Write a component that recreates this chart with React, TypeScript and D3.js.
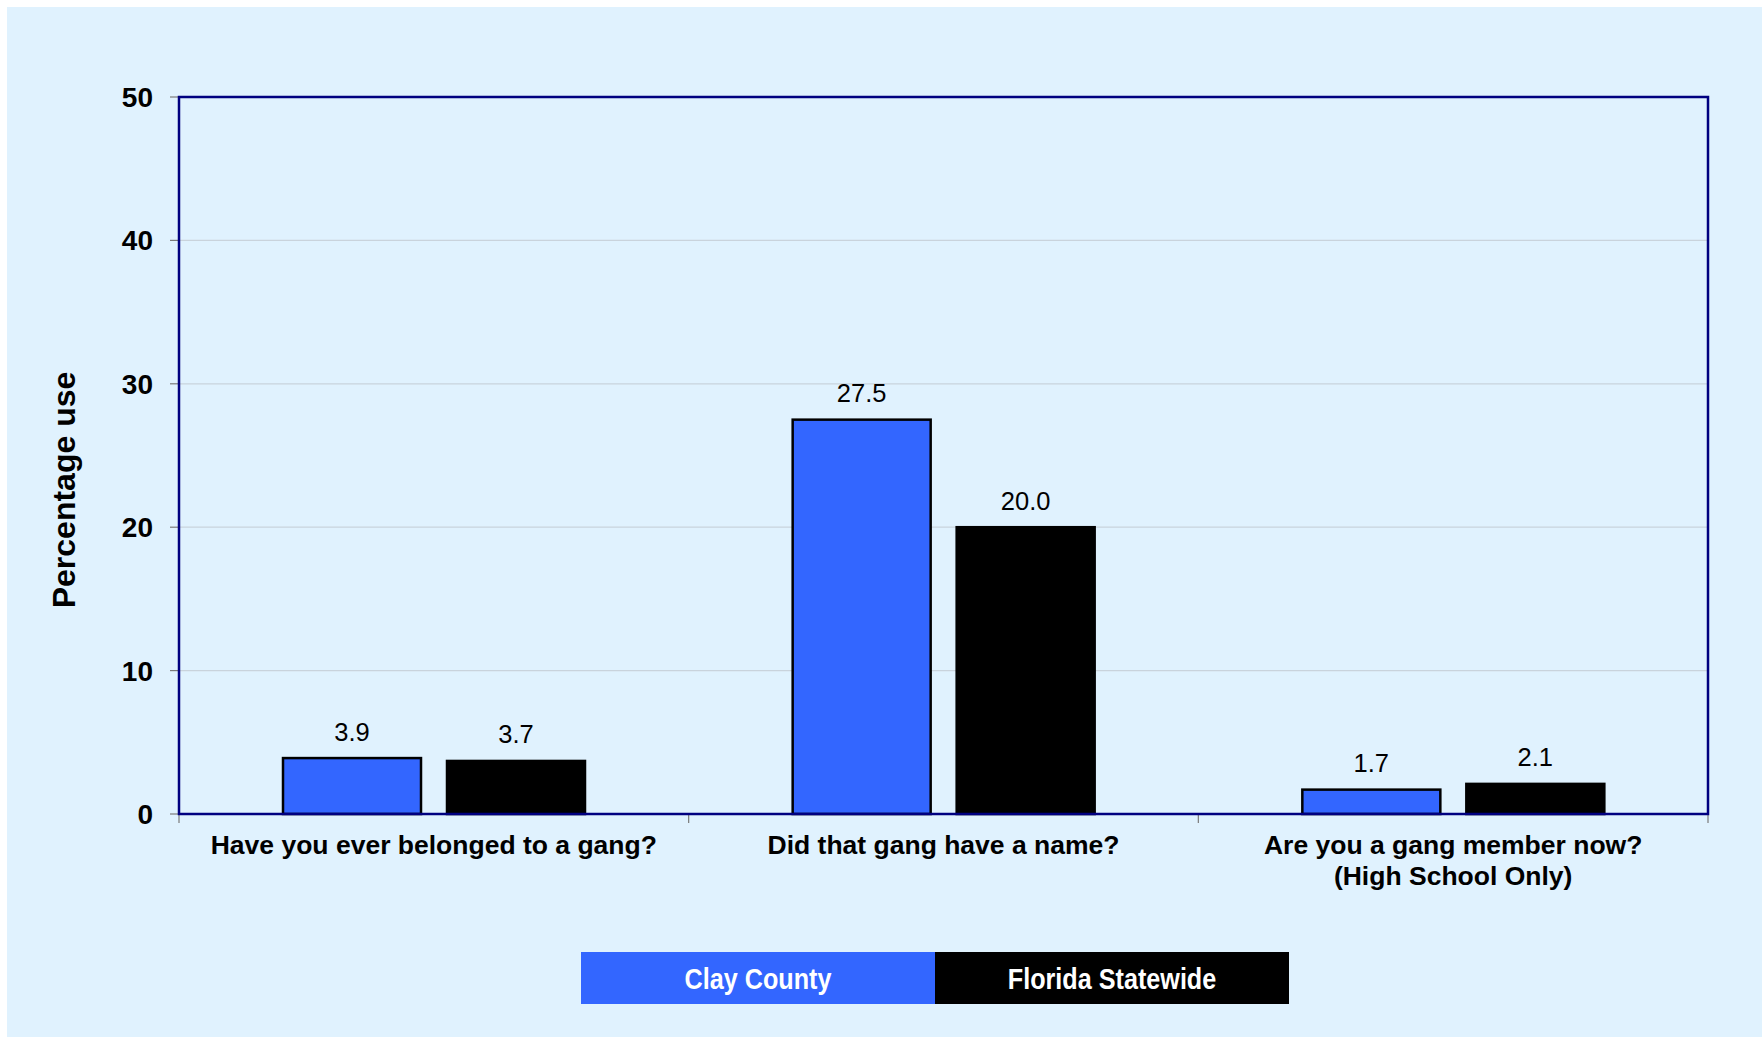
import React from "react";
import * as d3 from "d3";

const categories = [
  ["Have you ever belonged to a gang?"],
  ["Did that gang have a name?"],
  ["Are you a gang member now?", "(High School Only)"],
];
const seriesNames = ["Clay County", "Florida Statewide"];
const clayCounty = [3.9, 27.5, 1.7];
const floridaStatewide = [3.7, 20.0, 2.1];
const yTicks = [0, 10, 20, 30, 40, 50];
const seriesColors = ["#3366FF", "#000000"];

const W = 1762;
const H = 1037;
const plot = { left: 179, top: 97, right: 1708, bottom: 814 };

export default function App() {
  const x0 = d3
    .scaleBand<number>()
    .domain(categories.map((_, i) => i))
    .range([plot.left, plot.right])
    .paddingInner(0)
    .paddingOuter(0);
  const x1 = d3
    .scaleBand<number>()
    .domain([0, 1])
    .range([104, 104 + 302])
    .paddingInner(26 / 164)
    .paddingOuter(0);
  const y = d3.scaleLinear().domain([0, 50]).range([plot.bottom, plot.top]);
  const series = [clayCounty, floridaStatewide];

  const font = "Arial, 'Liberation Sans', sans-serif";

  return (
    <svg
      width={W}
      height={H}
      style={{ position: "absolute", left: 0, top: 0, display: "block" }}
    >
      <rect x={0} y={0} width={W} height={H} fill="#ffffff" />
      <rect x={7} y={7} width={W - 7} height={H - 7} fill="#E0F2FE" />

      {/* gridlines */}
      {yTicks
        .filter((t) => t !== 0 && t !== 50)
        .map((t) => (
          <line
            key={t}
            x1={plot.left}
            x2={plot.right}
            y1={y(t)}
            y2={y(t)}
            stroke="#C9D3DC"
            strokeWidth={1.2}
          />
        ))}

      {/* y ticks and labels */}
      {yTicks.map((t) => (
        <g key={t}>
          <line x1={plot.left - 9} x2={plot.left} y1={y(t)} y2={y(t)} stroke="#7a7a7a" strokeWidth={1.2} />
          <text
            x={153}
            y={y(t)}
            dy="0.36em"
            textAnchor="end"
            fontFamily={font}
            fontWeight="bold"
            fontSize={28}
            fill="#000"
          >
            {t}
          </text>
        </g>
      ))}

      {/* category ticks */}
      {[0, 1, 2, 3].map((i) => {
        const xx = plot.left + i * x0.bandwidth();
        return (
          <line key={i} x1={xx} x2={xx} y1={plot.bottom} y2={plot.bottom + 9} stroke="#7a7a7a" strokeWidth={1.2} />
        );
      })}

      {/* bars */}
      {categories.map((_, ci) =>
        series.map((vals, si) => {
          const bx = (x0(ci) as number) + (x1(si) as number);
          const bw = x1.bandwidth();
          const v = vals[ci];
          return (
            <g key={`${ci}-${si}`}>
              <rect
                x={bx}
                y={y(v)}
                width={bw}
                height={y(0) - y(v)}
                fill={seriesColors[si]}
                stroke="#000"
                strokeWidth={2.5}
              />
              <text
                x={bx + bw / 2}
                y={y(v) - 17.5}
                textAnchor="middle"
                fontFamily={font}
                fontSize={25.5}
                fill="#000"
              >
                {v.toFixed(1)}
              </text>
            </g>
          );
        })
      )}

      {/* plot border */}
      <rect
        x={plot.left}
        y={plot.top}
        width={plot.right - plot.left}
        height={plot.bottom - plot.top}
        fill="none"
        stroke="#000080"
        strokeWidth={2.5}
      />

      {/* category labels */}
      {categories.map((lines, ci) => (
        <text
          key={ci}
          x={(x0(ci) as number) + x0.bandwidth() / 2}
          y={854}
          textAnchor="middle"
          fontFamily={font}
          fontWeight="bold"
          fontSize={26.5}
          fill="#000"
        >
          {lines.map((l, li) => (
            <tspan key={li} x={(x0(ci) as number) + x0.bandwidth() / 2} dy={li === 0 ? 0 : 31}>
              {l}
            </tspan>
          ))}
        </text>
      ))}

      {/* y axis title */}
      <text
        transform="translate(75, 490) rotate(-90)"
        textAnchor="middle"
        fontFamily={font}
        fontWeight="bold"
        fontSize={32}
        fill="#000"
      >
        Percentage use
      </text>

      {/* legend */}
      {seriesNames.map((name, i) => {
        const lx = 581 + i * 354;
        const cx = lx + 177;
        return (
          <g key={name}>
            <rect x={lx} y={952} width={354} height={52} fill={seriesColors[i]} />
            <text
              transform={`translate(${cx}, 978) scale(0.84, 1)`}
              dy="0.36em"
              textAnchor="middle"
              fontFamily={font}
              fontWeight="bold"
              fontSize={30}
              fill="#fff"
            >
              {name}
            </text>
          </g>
        );
      })}
    </svg>
  );
}
